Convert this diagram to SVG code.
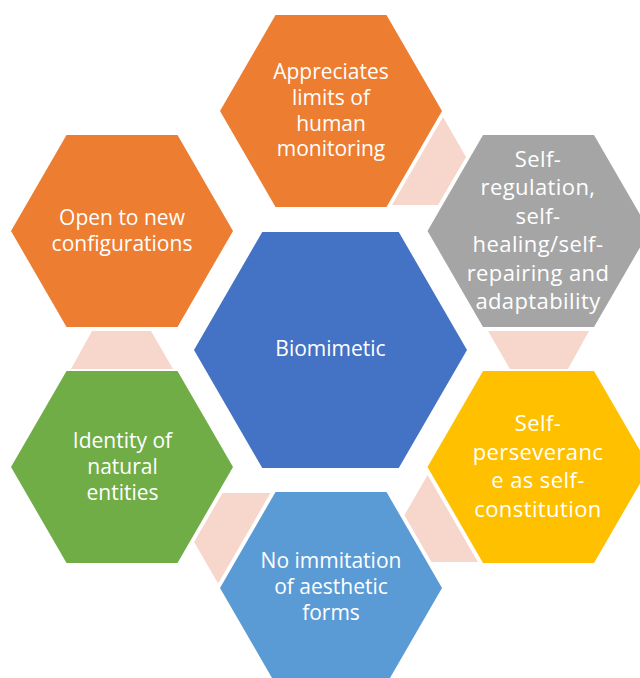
<svg xmlns="http://www.w3.org/2000/svg" width="640" height="678" viewBox="0 0 640 678">
<style>
.conn{fill:#F7D6CB}
.t{font-family:"Open Sans","Noto Sans","Liberation Sans",sans-serif;font-size:21px;fill:#FFFFFF;text-anchor:middle}
.tl{font-size:22px;letter-spacing:0.4px}
</style>
<rect width="640" height="678" fill="#FFFFFF"/>
<g id="connectors">
<polygon class="conn" points="443,117 466,157 438,205 392,205"/>
<polygon class="conn" points="488,331 589,331 568,369 510,369"/>
<polygon class="conn" points="427.6,475 404.4,515.2 431.5,562 477.9,562"/>
<polygon class="conn" points="222.5,493 270.4,493 218.1,583.6 194.1,542"/>
<polygon class="conn" points="92,331 151,331 173,369 71,369"/>
</g>
<g id="center">
<polygon points="194,350 262.25,232 398.75,232 467,350 398.75,468 262.25,468" fill="#4472C4"/>
<text class="t" x="330.5" y="356">Biomimetic</text>
</g>
<g id="top">
<polygon points="220,111 275.5,15 386.5,15 442,111 386.5,207 275.5,207" fill="#ED7D31"/>
<text class="t" x="331" y="79">Appreciates</text>
<text class="t" x="331" y="105">limits of</text>
<text class="t" x="331" y="130.5">human</text>
<text class="t" x="331" y="156">monitoring</text>
</g>
<g id="top-left">
<polygon points="11,231 66.5,135 177.5,135 233,231 177.5,327 66.5,327" fill="#ED7D31"/>
<text class="t" x="122" y="225">Open to new</text>
<text class="t" x="122" y="251">configurations</text>
</g>
<g id="top-right">
<polygon points="427.5,231 483,135 594,135 649.5,231 594,327 483,327" fill="#A5A5A5"/>
<text class="t tl" x="538" y="166.5">Self-</text>
<text class="t tl" x="538" y="195">regulation,</text>
<text class="t tl" x="538" y="223.5">self-</text>
<text class="t tl" x="538" y="252">healing/self-</text>
<text class="t tl" x="538" y="280.5">repairing and</text>
<text class="t tl" x="538" y="309">adaptability</text>
</g>
<g id="bottom-right">
<polygon points="427.5,467 483,371 594,371 649.5,467 594,563 483,563" fill="#FFC000"/>
<text class="t tl" x="538" y="431">Self-</text>
<text class="t tl" x="538" y="459.5">perseveranc</text>
<text class="t tl" x="538" y="488">e as self-</text>
<text class="t tl" x="538" y="516.5">constitution</text>
</g>
<g id="bottom">
<polygon points="220,588 275.5,492 386.5,492 442,588 386.5,684 275.5,684" fill="#5B9BD5"/>
<text class="t" x="331" y="568">No immitation</text>
<text class="t" x="331" y="594">of aesthetic</text>
<text class="t" x="331" y="620">forms</text>
</g>
<g id="bottom-left">
<polygon points="11,467 66.5,371 177.5,371 233,467 177.5,563 66.5,563" fill="#70AD47"/>
<text class="t" x="122.5" y="448">Identity of</text>
<text class="t" x="122.5" y="474">natural</text>
<text class="t" x="122.5" y="500">entities</text>
</g>
</svg>
